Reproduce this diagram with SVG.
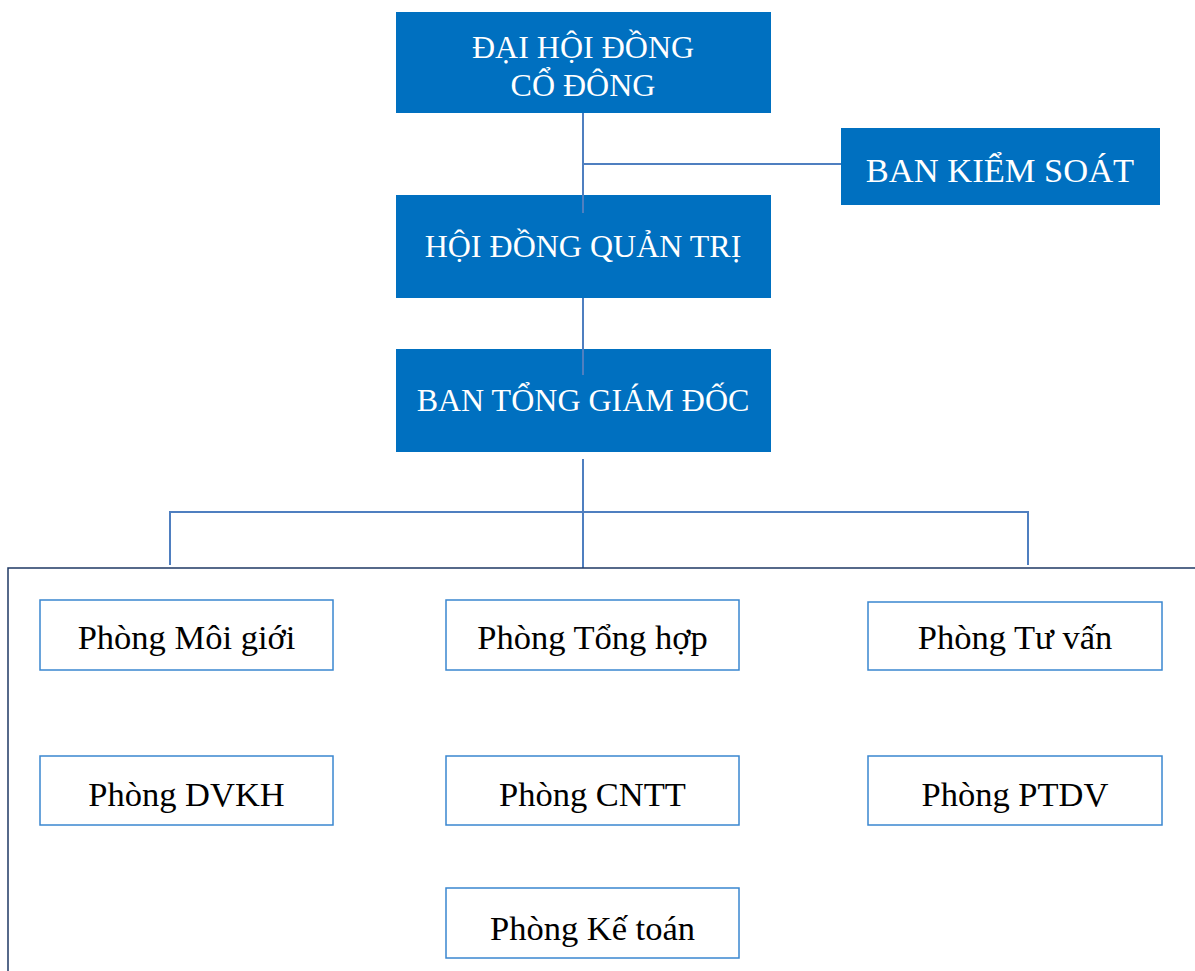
<svg xmlns="http://www.w3.org/2000/svg" width="1195" height="971" viewBox="0 0 1195 971">
<style>
.top{fill:#0070C0}
.tt{font-family:"Liberation Serif","Times New Roman",serif;font-size:32px;fill:#fff;text-anchor:middle}
.dept{fill:#fff;stroke:#3A87D0;stroke-width:1.5}
.dt{font-family:"Liberation Serif","Times New Roman",serif;font-size:34.5px;fill:#000;text-anchor:middle}
.con{stroke:#4F7FC0;stroke-width:2;fill:none}
</style>
<rect width="1195" height="971" fill="#fff"/>
<g id="dhdcd"><rect class="top" x="396" y="12" width="375" height="101"/>
<text class="tt" x="583" y="58">ĐẠI HỘI ĐỒNG</text><text class="tt" x="583" y="96">CỔ ĐÔNG</text></g>
<g id="bks"><rect class="top" x="841" y="128" width="319" height="77"/>
<text class="tt" x="1000" y="182" style="font-size:34.5px">BAN KIỂM SOÁT</text></g>
<g id="hdqt"><rect class="top" x="396" y="195" width="375" height="103"/>
<text class="tt" x="583" y="257">HỘI ĐỒNG QUẢN TRỊ</text></g>
<g id="btgd"><rect class="top" x="396" y="349" width="375" height="103"/>
<text class="tt" x="583" y="411">BAN TỔNG GIÁM ĐỐC</text></g>
<g id="connectors">
<path class="con" d="M583 113V213M583 164H841M583 298V375M583 459V568M170 565V512H1028V565"/>
</g>
<g id="frame"><path d="M1195 568H8V971" fill="none" stroke="#1F3864" stroke-width="1.5"/></g>
<g id="moigioi"><rect class="dept" x="40" y="600" width="293" height="70"/><text class="dt" x="186.5" y="649">Phòng Môi giới</text></g>
<g id="tonghop"><rect class="dept" x="446" y="600" width="293" height="70"/><text class="dt" x="592.5" y="649">Phòng Tổng hợp</text></g>
<g id="tuvan"><rect class="dept" x="868" y="602" width="294" height="68"/><text class="dt" x="1015" y="649">Phòng Tư vấn</text></g>
<g id="dvkh"><rect class="dept" x="40" y="756" width="293" height="69"/><text class="dt" x="186.5" y="806">Phòng DVKH</text></g>
<g id="cntt"><rect class="dept" x="446" y="756" width="293" height="69"/><text class="dt" x="592.5" y="806">Phòng CNTT</text></g>
<g id="ptdv"><rect class="dept" x="868" y="756" width="294" height="69"/><text class="dt" x="1015" y="806">Phòng PTDV</text></g>
<g id="ketoan"><rect class="dept" x="446" y="888" width="293" height="70"/><text class="dt" x="592.5" y="940">Phòng Kế toán</text></g>
</svg>
